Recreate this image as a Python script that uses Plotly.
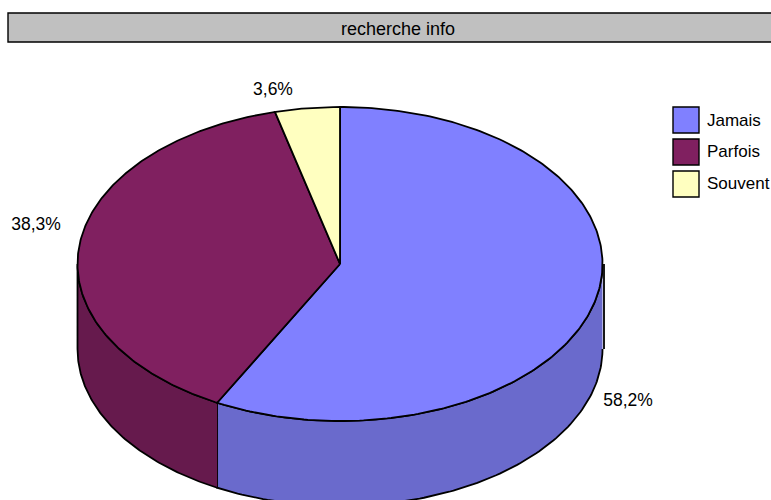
import numpy as np
import plotly.graph_objects as go

# Data
title_text = "recherche info"
categories = ["Jamais", "Parfois", "Souvent"]
values = [58.2, 38.3, 3.6]

# Style
top_colors = ["#8080FF", "#802060", "#FFFFC0"]
wall_colors = ["#6A6ACC", "#661A4D", "#CCCC99"]
FONT = "Liberation Sans, Arial, sans-serif"
FS = 17.5
W, H = 771, 500
CX, CY, RX, RY, DEPTH = 340, 264, 262.5, 157, 85
EDGE_SHIFT = 1.4  # the original's 3-D projection nudges interior edges
label_pos = [(628, 402), (36, 226), (273, 91)]
legend_x, legend_ys, legend_size = 686, [120, 152, 184], 26
legend_text_ys = [122, 153, 185]


def px(t):
    return CX + RX * np.sin(np.radians(t))


def py(t, drop=0):
    return CY - RY * np.cos(np.radians(t)) + drop


shares = np.array(values) / sum(values)
edges = np.concatenate([[0], np.cumsum(shares) * 360])
edges[1:-1] -= EDGE_SHIFT

fig = go.Figure()
line = dict(color="black", width=1.8)

# Side walls (only the near half of the rim is visible)
for i, cat in enumerate(categories):
    a, b = max(edges[i], 90), min(edges[i + 1], 270)
    if a >= b:
        continue
    t = np.linspace(a, b, 120)
    x = np.concatenate([px(t), px(t[::-1])])
    y = np.concatenate([py(t), py(t[::-1], DEPTH)])
    fig.add_trace(go.Scatter(x=x, y=y, mode="lines", fill="toself", fillcolor=wall_colors[i],
                             line=line, hoverinfo="skip", showlegend=False))

# Top faces
for i, cat in enumerate(categories):
    t = np.linspace(edges[i], edges[i + 1], 240)
    x = np.concatenate([[CX], px(t), [CX]])
    y = np.concatenate([[CY], py(t), [CY]])
    fig.add_trace(go.Scatter(x=x, y=y, mode="lines", fill="toself", fillcolor=top_colors[i],
                             line=line, name=cat, hoverinfo="skip", showlegend=False))

# Slightly offset wall edge at the right extreme
fig.add_trace(go.Scatter(x=[px(90) + 1.5, px(90) + 1.5], y=[py(90), py(90, DEPTH)], mode="lines",
                         line=dict(color="black", width=1.8), hoverinfo="skip", showlegend=False))

# Percentage labels
fig.add_trace(go.Scatter(x=[p[0] for p in label_pos], y=[p[1] for p in label_pos], mode="text",
                         text=[f"{v:.1f}%".replace(".", ",") for v in values],
                         textposition="middle center",
                         textfont=dict(family=FONT, size=FS, color="black"),
                         hoverinfo="skip", showlegend=False))

# Legend
fig.add_trace(go.Scatter(x=[legend_x] * 3, y=legend_ys, mode="markers",
                         marker=dict(symbol="square", size=legend_size, color=top_colors,
                                     line=dict(color="black", width=1.4)),
                         hoverinfo="skip", showlegend=False))
fig.add_trace(go.Scatter(x=[legend_x + 21] * 3, y=legend_text_ys, mode="text", text=categories,
                         textposition="middle right",
                         textfont=dict(family=FONT, size=17, color="black"),
                         hoverinfo="skip", showlegend=False))

fig.update_layout(
    width=W, height=H, margin=dict(l=0, r=0, t=0, b=0),
    paper_bgcolor="white", plot_bgcolor="white",
    xaxis=dict(range=[0, W], visible=False, fixedrange=True),
    yaxis=dict(range=[H, 0], visible=False, fixedrange=True),
    shapes=[dict(type="rect", xref="x", yref="y", x0=8, x1=790, y0=13, y1=42,
                 fillcolor="#C0C0C0", line=dict(color="black", width=1.4), layer="below")],
    annotations=[dict(x=398, y=29, xref="x", yref="y", text=title_text, showarrow=False,
                      font=dict(family=FONT, size=18, color="black"))],
)
fig.write_html("out.html", config=dict(displayModeBar=False, staticPlot=True),
               post_script="document.body.style.margin='0';document.documentElement.style.overflow='hidden';")
